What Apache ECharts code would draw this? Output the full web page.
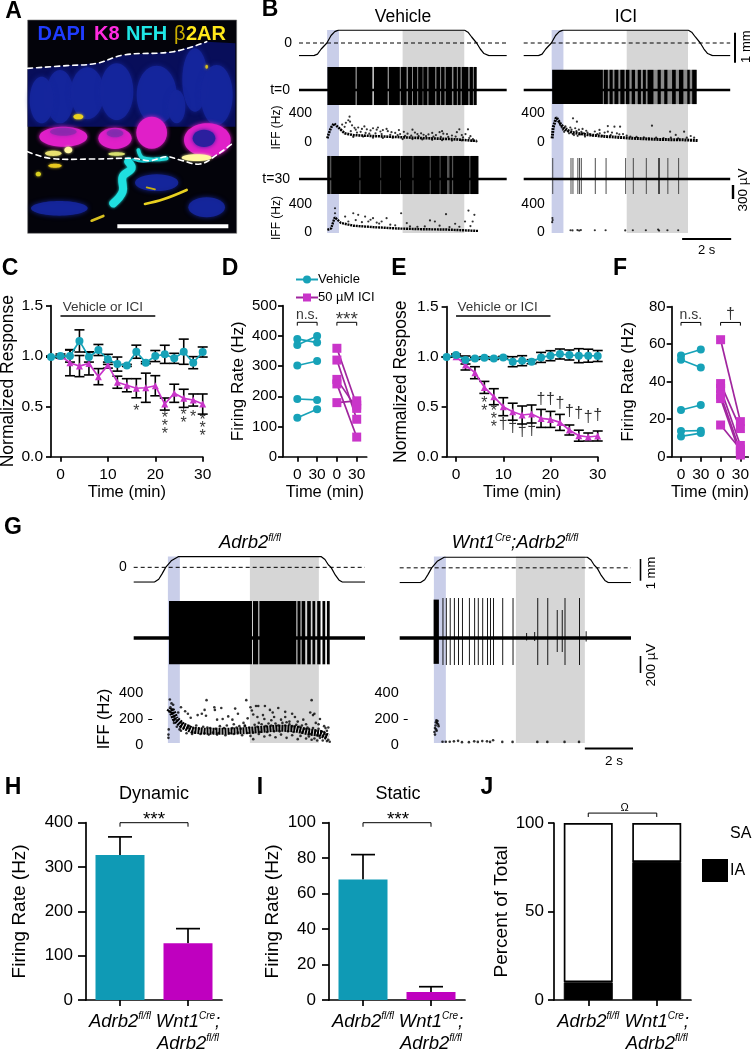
<!DOCTYPE html>
<html><head><meta charset="utf-8">
<script src="https://cdn.jsdelivr.net/npm/echarts@6/dist/echarts.min.js"></script>
<style>html,body{margin:0;background:#fff}#c{width:752px;height:1050px}</style></head>
<body><div id="c"></div>
<script>
// ---------- panel C / E data ----------
const timeMin=[-2,0,2,4,6,8,10,12,14,16,18,20,22,24,26,28,30];
const cVehicle=[0.99,1.0,1.0,1.15,0.99,1.06,0.967,0.92,0.907,1.043,0.934,1.0,1.017,0.977,1.043,0.934,1.04];
const cVehicleErr=[0,0.02,0.06,0.11,0.05,0.055,0.05,0.07,0.01,0.065,0.01,0.055,0.09,0.05,0.125,0.06,0.05];
const cIci=[null,1.0,0.934,0.90,0.927,0.795,0.91,0.74,0.71,0.68,0.685,0.705,0.523,0.63,0.58,0.563,0.523];
const cIciErr=[null,0,0.13,0.105,0.115,0.08,0.03,0.06,0.065,0.095,0.145,0.1,0.06,0.09,0.09,0.06,0.1];
const cSig=[[16,0.45,'*'],[22,0.3,'*\n*\n*'],[26,0.37,'*\n*'],[28,0.39,'*'],[30,0.28,'*\n*\n*']];
const eVehicle=[0.997,1.017,0.967,0.983,0.99,0.983,0.993,0.95,0.96,0.95,0.993,1.01,1.027,1.017,1.01,1.01,1.007];
const eVehicleErr=[0,0.01,0.04,0.01,0.01,0.01,0.01,0.05,0.05,0.02,0.05,0.05,0.05,0.05,0.07,0.065,0.055];
const eIci=[null,1.0,0.917,0.84,0.693,0.6,0.5,0.45,0.417,0.427,0.383,0.373,0.343,0.267,0.21,0.197,0.207];
const eIciErr=[null,0,0.05,0.06,0.06,0.08,0.09,0.085,0.09,0.09,0.09,0.08,0.08,0.05,0.055,0.04,0.05];
const eSig=[[6,0.49,'*\n*'],[8,0.367,'*\n*\n*'],[10,0.317,'†'],[12,0.29,'†'],[14,0.25,'†'],[16,0.257,'†'],[18,0.573,'†'],[20,0.567,'†'],[22,0.527,'†'],[24,0.45,'†'],[26,0.43,'†'],[28,0.39,'†'],[30,0.407,'†']];
// ---------- panel D / F paired data ----------
const pairTicks=['0','30','0','30'];
const dVehicle=[[390,378],[370,400],[302,317],[191,188],[129,157]];
const dIci=[[359,171],[320,124],[256,160],[241,65],[179,185]];
const fVehicle=[[54,57.2],[51.7,47.6],[24.9,27.6],[13.7,13.9],[10.8,12.6]];
const fIci=[[62.4,18.7],[39,15],[36.4,6],[33,2.7],[31,0.9],[16.9,4]];
// ---------- panels H I J ----------
const genotypes=['Adrb2','Wnt1Cre;Adrb2'];
const hMeans=[327,128], hErrTop=[368,161];
const iMeans=[68,4.5], iErrTop=[82,7.5];
const jIA=[10,78], jSA=[90,22];
// ---------- panels B, G traces (seconds, mm, Hz, uV) ----------
const bBlue=[1.14,1.62], bGray=[4.2,6.7], gBlue=[1.23,1.66], gGray=[4.18,6.66];
const bStim=[[0,-.42],[.6,-.42],[.75,-.37],[.9,-.2],[1.13,0],[1.3,.25],[1.45,.38],[1.6,.43],[6.7,.43],[6.85,.36],[7.0,.2],[7.2,0],[7.35,-.2],[7.5,-.35],[7.7,-.42],[8.42,-.42]];
const gStim=[[0,-.68],[.75,-.68],[.9,-.55],[1.02,-.3],[1.15,0],[1.35,.3],[1.6,.49],[6.75,.49],[6.88,.36],[7.0,.12],[7.1,0],[7.25,-.35],[7.38,-.58],[7.5,-.68],[8.32,-.68]];
const spikesV0=[[1.15,2.3],[2.33,2.98],[3.03,3.6],[3.63,4.09],[4.13,4.36],[4.42,4.58],[4.62,4.79],[4.83,5.01],[5.04,5.2],[5.25,5.52],[5.57,5.72],[5.76,5.9],[5.95,6.2],[6.26,6.4],[6.44,6.55],[6.6,6.86],[6.92,7.05],[7.09,7.2]];
const underV0=[[4.09,7.2]];
const spikesI0=[[1.16,3.23],[3.27,3.43],[3.5,3.63],[3.7,3.86],[3.94,4.11],[4.17,4.31],[4.4,4.54],[4.65,4.78],[4.86,4.98],[5.05,5.29],[5.46,5.59],[5.73,5.86],[6.05,6.2],[6.33,6.51],[6.67,6.77],[6.87,7.05]];
const underI0=[[3.23,4.4],[4.4,5.5],[5.5,7.05]];
const spikesV30=[[1.15,1.25],[1.31,2.45],[2.49,3.3],[3.33,4.1],[4.13,4.6],[4.64,5.3],[5.34,5.7],[5.74,6.0],[6.1,6.2],[6.25,6.9],[6.95,7.27]];
const underV30=[[1.15,7.27]];
const spikesI30=[1.166,1.91,1.99,2.19,2.26,2.33,2.90,3.34,4.14,4.45,4.98,5.48,5.52,5.86,6.30];
const spikesGL=[[1.27,4.255],[4.29,4.48],[4.52,5.85],[5.89,6.0],[6.04,6.17],[6.24,6.37],[6.43,6.53],[6.6,6.72],[6.79,6.89],[6.95,7.05]];
const spikesGRBurst=[[1.22,1.41]];
const spikesGRTall=[1.54,1.66,1.80,1.95,2.10,2.24,2.49,2.68,2.81,2.97,3.14,3.25,3.36,3.69,4.06,4.95,5.31,5.93,6.45];
const spikesGRShort=[[4.55,60],[4.84,70],[5.65,330],[5.83,330],[6.69,80]];
const ridgeV0=[[1.15,50],[1.2,110],[1.3,200],[1.42,255],[1.6,200],[1.85,120],[2.2,95],[3.5,75],[4.9,55],[6.2,40],[7.2,15]];
const dotsV0=[[1.9,265],[2.0,300],[2.05,350],[2.07,280],[2.15,230],[1.75,240],[1.85,210],[2.25,195],[2.3,170],[2.4,200],[2.55,180],[2.65,215],[2.75,175],[2.9,160],[3.0,190],[3.15,170],[3.2,200],[3.3,145],[3.4,165],[3.55,180],[3.6,150],[3.75,135],[3.9,125],[4.05,165],[4.1,110],[4.25,140],[4.4,115],[4.6,170],[4.7,130],[4.8,110],[4.95,120],[5.05,100],[5.25,105],[5.4,125],[5.55,95],[5.7,135],[5.8,150],[5.85,115],[6.0,110],[6.2,90],[6.4,135],[6.5,175],[6.6,95],[6.75,110],[6.85,175],[6.95,80],[7.05,40],[7.2,10],[1.7,170],[2.1,150],[2.35,130],[2.5,140],[2.7,125],[2.85,115],[3.1,120],[3.35,110],[3.7,100],[4.0,95],[4.3,85],[4.55,90],[4.85,80],[5.15,80],[5.45,75],[5.75,70],[6.05,70],[6.35,75],[6.65,65],[6.9,55],[2.2,70],[2.6,75],[3.0,60],[3.4,55],[3.8,60],[4.2,40],[4.6,40],[5.0,35],[5.4,30],[5.8,25],[6.2,20],[6.6,22],[7.0,15]];
const ridgeI0=[[1.16,50],[1.2,200],[1.33,340],[1.5,250],[1.7,170],[2.0,130],[2.6,100],[3.4,75],[4.5,50],[5.5,35],[6.5,30],[7.1,20]];
const dotsI0=[[2.01,326],[2.17,280],[3.43,220],[3.7,211],[3.93,211],[5.23,225],[5.97,142],[6.54,142],[6.2,97],[6.81,83],[3.09,166],[3.43,142],[1.45,270],[1.5,230],[1.55,200],[1.6,170],[1.65,140],[1.7,215],[1.75,185],[1.8,150],[1.85,120],[1.9,200],[1.95,170],[2.0,110],[2.05,95],[2.1,190],[2.15,150],[2.2,85],[2.25,170],[2.3,105],[2.35,140],[2.4,180],[2.45,120],[2.5,75],[2.55,155],[2.6,130],[2.7,110],[2.8,90],[2.9,145],[3.0,110],[3.1,120],[3.2,85],[3.3,130],[3.55,95],[3.6,130],[3.8,120],[3.9,105],[4.05,110],[4.2,90],[4.35,75],[4.6,70],[4.9,65],[5.1,50],[5.4,60],[5.7,55],[6.0,60],[6.3,50],[6.65,60],[6.95,60]];
const ridgeV30=[[1.15,30],[1.3,50],[1.45,210],[1.7,130],[2.2,90],[3.0,70],[4.0,50],[5.0,40],[6.0,35],[7.28,15]];
const dotsV30=[[1.46,339],[1.46,268],[2.2,268],[1.87,221],[2.4,245],[2.68,221],[3.0,198],[3.55,198],[3.35,150],[2.81,150],[4.14,268],[5.96,254],[5.31,165],[5.51,150],[6.87,306],[7.11,245],[6.73,150],[7.04,150],[6.33,118],[4.37,127],[2.0,150],[2.3,170],[2.55,140],[2.9,175],[3.15,135],[3.25,120],[3.7,105],[3.9,95],[4.5,80],[4.8,75],[5.1,80],[5.7,90],[6.1,70],[6.5,75],[6.95,85]];
const dotsI30=[[1.17,200],[1.18,170],[1.16,140],[1.91,25],[1.99,22],[2.19,27],[2.26,20],[2.33,28],[2.90,25],[3.34,25],[4.14,22],[4.45,25],[4.98,25],[5.48,35],[5.52,20],[5.86,25],[6.30,25]];
const ridgeGL=[[1.28,250],[1.35,270],[1.5,200],[1.75,150],[2.1,115],[2.6,105],[3.2,105],[4.0,110],[4.6,120],[5.2,130],[5.8,125],[6.3,100],[6.7,90],[7.0,60]];
const dotsGL=[[1.25,80],[1.25,55],[1.26,120],[1.3,350],[1.36,320],[1.42,310],[1.32,290],[1.4,240],[1.46,215],[1.55,190],[1.6,250],[1.72,170],[1.7,290],[1.85,260],[1.95,240],[2.05,210],[2.15,130],[2.3,230],[2.45,240],[2.55,270],[2.6,225],[2.62,345],[2.9,290],[2.92,270],[3.15,285],[3.0,195],[3.2,200],[3.4,220],[3.55,195],[3.6,160],[3.65,280],[3.75,240],[3.8,145],[3.95,170],[4.0,150],[4.1,205],[4.05,345],[4.2,290],[4.25,265],[4.3,235],[4.4,300],[4.45,215],[4.48,300],[4.5,170],[4.65,230],[4.7,200],[4.72,300],[4.9,270],[4.95,190],[5.0,250],[5.05,215],[5.3,195],[5.2,285],[5.45,215],[5.45,255],[5.5,175],[5.6,180],[5.7,240],[5.8,215],[5.9,180],[6.1,195],[6.2,160],[6.35,250],[6.4,345],[6.45,230],[6.5,240],[6.55,170],[6.7,200],[6.65,160],[6.85,145],[6.9,130],[7.0,135],[6.95,110],[1.65,120],[1.9,90],[2.1,85],[2.4,85],[2.7,80],[3.0,80],[3.3,75],[3.6,85],[3.9,75],[4.2,70],[4.3,45],[4.5,85],[4.7,65],[4.9,75],[5.1,60],[5.3,80],[5.5,55],[5.7,75],[5.9,45],[6.0,70],[6.2,50],[6.3,65],[6.4,40],[6.5,50],[6.6,35],[6.7,55],[6.8,35],[6.9,60],[6.95,30],[7.0,40],[7.05,25],[1.45,170],[1.55,140],[1.7,110],[1.8,130],[2.0,145],[2.25,150],[2.5,140],[2.75,130],[3.1,145],[3.35,150],[3.7,135],[4.0,145],[4.35,155],[4.6,160],[4.85,165],[5.1,165],[5.35,170],[5.6,160],[5.85,155],[6.05,150],[6.25,135],[6.45,130],[6.65,125],[6.85,100],
[1.95,130],[2.2,95],[2.35,125],[2.55,90],[2.65,135],[2.85,95],[2.95,125],[3.05,92],[3.25,130],[3.45,90],[3.55,130],[3.75,95],[3.85,125],[4.1,92],[4.15,135],[4.3,95],[4.45,140],[4.55,100],[4.75,145],[4.8,100],[4.95,150],[5.05,105],[5.2,150],[5.25,105],[5.45,150],[5.55,105],[5.7,145],[5.75,100],[5.95,140],[6.05,95],[6.15,125],[6.3,125],[6.35,85],[6.55,110],[6.6,75],[6.75,105],[6.8,70],[6.92,80]];
const dotsGR=[[1.25,100],[1.27,130],[1.29,150],[1.3,175],[1.32,190],[1.34,170],[1.36,185],[1.38,160],[1.4,145],[1.27,80],[1.31,120],[1.33,110],[1.54,25],[1.66,25],[1.80,25],[1.95,28],[2.10,32],[2.24,22],[2.49,22],[2.68,28],[2.81,24],[2.97,30],[3.14,28],[3.25,24],[3.36,36],[3.69,24],[4.06,24],[4.95,24],[5.31,24],[5.93,24],[6.45,24]];
// ---------- helpers ----------
const FF='"Liberation Sans",Arial,sans-serif';
const grids=[],xAxes=[],yAxes=[],series=[],graphics=[];
const CY='#17a2b8',MG='#c935c9',MGD='#a0259e';
function G(rect,x,y){grids.push({left:rect[0],top:rect[1],width:rect[2],height:rect[3],containLabel:false,outerBoundsMode:'none'});
 xAxes.push(Object.assign({gridIndex:grids.length-1,type:'value',show:false,splitLine:{show:false}},x));
 yAxes.push(Object.assign({gridIndex:yAxes.length,type:'value',show:false,splitLine:{show:false}},y));
 return grids.length-1;}
function S(g,o){series.push(Object.assign({xAxisIndex:g,yAxisIndex:g,animation:false,silent:true},o));}
function txt(x,y,t,size,o){o=o||{};graphics.push({type:'text',x,y,rotation:o.rot||0,z:o.z||20,style:Object.assign({text:t,font:(o.weight||'normal')+' '+size+'px '+FF,fill:o.fill||'#000',align:o.align||'center',verticalAlign:'middle'},o.style||{})});}
function vbar(x,y0,y1,w){graphics.push({type:'line',z:20,shape:{x1:x,y1:y0,x2:x,y2:y1},style:{stroke:'#000',lineWidth:w||2}});}
const rectItem=(p,api)=>{const a=api.coord([api.value(0),api.value(3)]),b=api.coord([api.value(1),api.value(2)]);
 return{type:'rect',shape:{x:a[0],y:a[1],width:Math.max(b[0]-a[0],.9),height:b[1]-a[1]},style:{fill:api.visual('color')}}};
function bands(left,width,tmax,top,h,blue,gray){const g=G([left,top,width,h],{min:0,max:tmax},{min:0,max:1});
 S(g,{type:'custom',z:1,renderItem:rectItem,itemStyle:{color:'#c9cee9'},data:[[blue[0],blue[1],0,1]]});
 S(g,{type:'custom',z:1,renderItem:rectItem,itemStyle:{color:'#d6d6d6'},data:[[gray[0],gray[1],0,1]]});return g;}
function stim(left,width,tmax,top,h,ymin,ymax,pts,label){const ya={min:ymin,max:ymax};
 if(label){ya.show=true;ya.axisLine={show:false};ya.axisTick={show:false};ya.axisLabel={customValues:[0],margin:7,fontSize:14,color:'#000',fontFamily:FF}}
 const g=G([left,top,width,h],{min:0,max:tmax},ya);
 S(g,{type:'line',z:3,showSymbol:false,data:pts,lineStyle:{color:'#000',width:1.2}});
 S(g,{type:'line',z:3,showSymbol:false,data:[[0,0],[tmax,0]],lineStyle:{color:'#000',width:1,type:[4,3]}});}
function spikes(left,width,tmax,center,up,down,uvPerPx,segs,label,extra){extra=extra||{};const top=center-up,h=up+down;
 const ya={min:-down*uvPerPx,max:up*uvPerPx};
 if(label){ya.show=true;ya.axisLine={show:false};ya.axisTick={show:false};ya.axisLabel={customValues:[0],margin:9,fontSize:14,color:'#000',fontFamily:FF,formatter:()=>label}}
 const g=G([left,top,width,h],{min:0,max:tmax},ya);
 const lo=-down*.94*uvPerPx,hi=up*.96*uvPerPx;
 if(extra.under)S(g,{type:'custom',z:3,renderItem:rectItem,itemStyle:{color:extra.underColor||'#777'},data:extra.under.map(s=>[s[0],s[1],lo,hi])});
 S(g,{type:'custom',z:3,renderItem:rectItem,itemStyle:{color:extra.color||'#000'},data:segs.map(s=>[s[0],s[1],s[2]!==undefined?s[2]:lo,s[3]!==undefined?s[3]:hi])});
 S(g,{type:'line',z:3,showSymbol:false,data:[[0,0],[tmax,0]],lineStyle:{color:'#000',width:extra.base||2.4}});
 return g;}
function iff(left,width,tmax,top,h,o){const ya={min:0,max:400,interval:o.interval||400,show:o.labels,offset:o.offset,name:o.name,nameLocation:'middle',nameGap:o.nameGap,nameTextStyle:{fontSize:o.nameSize,color:'#000',fontFamily:FF},axisLine:{show:false},axisTick:o.tick?{show:true,customValues:[200],inside:true,length:4,lineStyle:{color:'#000',width:1}}:{show:false},axisLabel:{margin:o.margin,fontSize:o.fs,color:'#000',fontFamily:FF}};
 const g=G([left,top,width,h],{min:0,max:tmax},ya);
 if(o.ridge)S(g,{type:'line',z:3,showSymbol:false,data:o.ridge,lineStyle:{color:'#000',width:o.rw||2.6,type:o.dash||[2,.8]}});
 S(g,{type:'scatter',z:3,symbolSize:o.ds||2.2,itemStyle:{color:'#000'},data:o.dots});}
const axC={axisLine:{show:true,onZero:false,lineStyle:{color:'#000',width:1.7}},axisTick:{show:true,length:5,lineStyle:{color:'#000',width:1.7}},splitLine:{show:false},show:true};
function axis(o){const a=JSON.parse(JSON.stringify(axC));return Object.assign(a,o);}
function lab(fs,extra){return Object.assign({fontSize:fs,color:'#000',fontFamily:FF},extra||{});}
function errSeries(g,xs,mean,err,lw,cap){S(g,{type:'custom',z:3,renderItem:(p,api)=>{const x=api.value(0),l=api.coord([x,api.value(1)]),h=api.coord([x,api.value(2)]);
 return{type:'group',children:[{type:'line',shape:{x1:l[0],y1:l[1],x2:h[0],y2:h[1]},style:{stroke:'#000',lineWidth:lw}},{type:'line',shape:{x1:l[0]-cap,y1:h[1],x2:l[0]+cap,y2:h[1]},style:{stroke:'#000',lineWidth:lw}},{type:'line',shape:{x1:l[0]-cap,y1:l[1],x2:l[0]+cap,y2:l[1]},style:{stroke:'#000',lineWidth:lw}}]}},
 data:xs.map((x,i)=>mean[i]==null?null:[x,mean[i]-err[i],mean[i]+err[i]]).filter(Boolean)});}
function ann(g,rows,fs,lh,weight){S(g,{type:'scatter',z:6,symbolSize:1,clip:false,itemStyle:{color:'rgba(0,0,0,0)'},data:rows,label:{show:true,position:'inside',formatter:p=>p.data[2],fontSize:fs,fontWeight:weight||'normal',lineHeight:lh||fs,color:'#000',fontFamily:FF}});}
function hline(g,pts,w){S(g,{type:'line',z:4,clip:false,showSymbol:false,data:pts,lineStyle:{color:'#000',width:w||1}});}
function timeChart(rect,name,nameGap,veh,vehErr,ici,iciErr,barY,textPos){
 const t=[0,10,20,30];
 const g=G(rect,axis({min:-2,max:30,name:'Time (min)',nameLocation:'middle',nameGap:27,nameTextStyle:lab(16.5),axisTick:{show:true,customValues:t,length:5,lineStyle:{color:'#000',width:1.7}},axisLabel:lab(15.5,{customValues:t,margin:10})}),
  axis({min:0,max:1.5,interval:.5,name,nameLocation:'middle',nameGap,nameTextStyle:lab(17.5),axisLabel:lab(15.5,{margin:8,formatter:v=>v.toFixed(1)})}));
 errSeries(g,timeMin,veh,vehErr,1.6,5);errSeries(g,timeMin,ici,iciErr,1.6,5);
 S(g,{type:'line',z:5,data:timeMin.map((x,i)=>[x,ici[i]]).filter(d=>d[1]!=null),symbol:'triangle',symbolSize:7,lineStyle:{color:MG,width:1.7},itemStyle:{color:MG}});
 S(g,{type:'line',z:5,data:timeMin.map((x,i)=>[x,veh[i]]),symbol:'circle',symbolSize:8,lineStyle:{color:CY,width:1.7},itemStyle:{color:CY}});
 hline(g,[[0,barY],[20,barY]],1.6);
 ann(g,[[textPos[0],textPos[1],'Vehicle or ICI']],13.5);
 return g;}
function pairChart(rect,ymax,step,nameGap,veh,ici,brTop,brTip,labels,sigSize){
 const t=[0,1,2,3];const px=19.8;
 const g=G(rect,axis({min:-(rect[4])/px,max:(rect[2]-rect[4])/px,name:'Time (min)',nameLocation:'middle',nameGap:27,nameTextStyle:lab(16.5),axisTick:{show:true,customValues:t,length:5,lineStyle:{color:'#000',width:1.7}},axisLabel:lab(15.5,{customValues:t,margin:10,formatter:v=>pairTicks[Math.round(v)]})}),
  axis({min:0,max:ymax,interval:step,name:'Firing Rate (Hz)',nameLocation:'middle',nameGap,nameTextStyle:lab(17),axisLabel:lab(15,{margin:6})}));
 veh.forEach(p=>S(g,{type:'line',name:'Vehicle',z:5,data:[[0,p[0]],[1,p[1]]],symbol:'circle',symbolSize:8,lineStyle:{color:CY,width:1.7},itemStyle:{color:CY}}));
 ici.forEach(p=>S(g,{type:'line',name:'50 µM ICI',z:5,data:[[2,p[0]],[3,p[1]]],symbol:'rect',symbolSize:9,lineStyle:{color:MGD,width:1.7},itemStyle:{color:MG}}));
 hline(g,[[0,brTip],[0,brTop],[1,brTop],[1,brTip]]);hline(g,[[2,brTip],[2,brTop],[3,brTop],[3,brTip]]);
 ann(g,[labels[0]],14,14);ann(g,[labels[1]],sigSize,sigSize);
 return g;}
const gtRich={i:{fontStyle:'italic',fontSize:18.5,fontFamily:FF,color:'#000',lineHeight:22},s:{fontStyle:'italic',fontSize:10,fontFamily:FF,color:'#000',verticalAlign:'top',lineHeight:22,padding:[0,0,8,0]}};
function gtFmt(v){return v==='Adrb2'?'{i|Adrb2}{s|fl/fl}':'{i|Wnt1}{s|Cre}{i|;}\n{i|Adrb2}{s|fl/fl}';}
function barAxes(name,nameGap,max,step,tick,margin){return[
 axis({type:'category',data:genotypes,axisTick:{show:true,alignWithLabel:true,length:6,lineStyle:{color:'#000',width:1.7}},axisLabel:{margin:11,formatter:gtFmt,rich:gtRich,interval:0}}),
 axis({min:0,max,interval:step,name,nameLocation:'middle',nameGap,nameTextStyle:lab(19),axisTick:{show:true,length:tick,lineStyle:{color:'#000',width:1.7}},axisLabel:lab(17,{margin})})];}
function barChart(rect,name,gap,max,step,vals,tops,br,brTip,tick,margin){const a=barAxes(name,gap,max,step,tick,margin);const g=G(rect,a[0],a[1]);
 S(g,{type:'custom',z:2,renderItem:(p,api)=>{const c=api.coord([api.value(0),api.value(1)]),h=api.coord([api.value(0),api.value(2)]);
  return{type:'group',children:[{type:'line',shape:{x1:c[0],y1:c[1],x2:c[0],y2:h[1]},style:{stroke:'#000',lineWidth:1.7}},{type:'line',shape:{x1:c[0]-12,y1:h[1],x2:c[0]+12,y2:h[1]},style:{stroke:'#000',lineWidth:1.7}}]}},
  data:vals.map((v,i)=>[i,v,tops[i]])});
 S(g,{type:'bar',z:3,barWidth:49,data:[{value:vals[0],itemStyle:{color:'#0f9ab5'}},{value:vals[1],itemStyle:{color:'#bf00bf'}}]});
 const cat=genotypes;hline(g,[[cat[0],brTip],[cat[0],br],[cat[1],br],[cat[1],brTip]]);
 return g;}
// ---------- panel letters ----------
[['A',13.5,12],['B',270,10],['C',10,269],['D',230,269],['E',399,269],['F',620,269],['G',13,528],['H',13,788],['I',260,788],['J',487,788]].forEach(l=>txt(l[1],l[2],l[0],23,{weight:'bold'}));
// ---------- panel A (micrograph sketched with blurred shapes) ----------
const pz=v=>v/3;
graphics.push({type:'rect',z:5,shape:{x:pz(83),y:pz(60),width:pz(627),height:pz(640)},style:{fill:'#03030a',stroke:'#777',lineWidth:.6}});
function blob(cx,cy,rx,ry,c,blur,op){graphics.push({type:'ellipse',z:6,shape:{cx:pz(cx),cy:pz(cy),rx:pz(rx),ry:pz(ry)},style:{fill:c,shadowColor:c,shadowBlur:blur||6,opacity:op||1}});}
function path(pts,c,w,o){o=o||{};graphics.push({type:'polyline',z:o.z||7,shape:{points:pts.map(p=>[pz(p[0]),pz(p[1])]),smooth:o.smooth===undefined?.4:o.smooth},style:{stroke:c,lineWidth:w,fill:'none',lineDash:o.dash||null,lineCap:'round',shadowColor:o.glow||null,shadowBlur:o.glow?3:0}});}
graphics.push({type:'polygon',z:5,shape:{points:[[83,205],[290,190],[370,165],[520,155],[620,125],[706,130],[706,380],[83,380]].map(p=>[pz(p[0]),pz(p[1])])},style:{fill:'#080e5a'}});
[[180,290,42,80],[262,280,50,78],[350,275,50,85],[470,285,60,88],[585,240,38,95],[650,285,48,90],[125,300,36,70],[530,320,26,50],[178,625,85,22],[470,548,65,25],[620,622,55,30]].forEach(b=>blob(b[0],b[1],b[2],b[3],'#15269c',5,.9));
[[190,410,72,30],[345,415,50,32],[455,398,46,48],[622,420,70,50]].forEach(b=>blob(b[0],b[1],b[2],b[3],'#e01fc8',4));
blob(612,415,34,26,'#2b1f9e',4);blob(190,395,40,12,'#7a2aa8',4,.6);blob(345,400,25,12,'#6c2ea8',4,.6);
[[205,450,12,10,'#fff6a0'],[160,460,25,8,'#e8e070'],[590,473,45,10,'#fff8a0'],[350,462,25,5,'#d8e070'],[235,350,15,8,'#e8d020'],[165,497,20,6,'#e8c820'],[115,522,8,7,'#d8d020'],[620,200,4,6,'#d8c020']].forEach(b=>blob(b[0],b[1],b[2],b[3],b[4],3));
path([[385,485],[395,505],[368,530],[368,575],[340,610]],'#1fe0e0',pz(24),{glow:'#1fe0e0'});
path([[415,450],[430,475],[500,475]],'#1fd8d8',pz(11),{glow:'#1fd8d8'});
path([[400,478],[430,485],[470,475]],'#18c8d0',pz(7));
path([[435,612],[490,598],[560,570]],'#e8d020',pz(8));path([[275,662],[310,648]],'#d8c020',pz(8));path([[440,562],[465,568]],'#c8b010',pz(5));
path([[83,205],[200,197],[290,190],[370,165],[520,155],[620,125]],'#fff',1.6,{dash:[5,4]});
path([[83,455],[150,475],[280,477],[400,475],[450,482],[500,470],[540,480],[600,492],[650,465],[695,432]],'#fff',1.6,{dash:[5,4]});
graphics.push({type:'rect',z:8,shape:{x:pz(352),y:pz(673),width:pz(333),height:4},style:{fill:'#fff'}});
[['DAPI',37.5,'#1f3cff'],['K8',94,'#ff2be0'],['NFH',126,'#1fe6e6'],['β',174,'#c9ad00'],['2AR',186,'#ffe81a']].forEach(t=>txt(t[1],34.5,t[0],20,{align:'left',fill:t[2],weight:t[0]==='β'?'normal':'bold',z:9}));
// ---------- panel B ----------
const BT=8.42,VL=299,VW=207.7,IL=523.7,IW=206.5;
bands(VL,VW,BT,30,203,bBlue,bGray);
const icib=bands(IL,IW,BT,30,203,bBlue,bGray);
stim(VL,VW,BT,30,26,-.433,.433,bStim,true);stim(IL,IW,BT,30,26,-.433,.433,bStim,false);
spikes(VL,VW,BT,90,24,16,21.4,spikesV0,'t=0',{under:underV0,underColor:'#8a8a8a'});
spikes(IL,IW,BT,90,21,15,21.4,spikesI0,null,{under:underI0,underColor:'#8a8a8a'});
spikes(VL,VW,BT,179,24,16,21.4,spikesV30,'t=30',{under:underV30,underColor:'#555'});
spikes(IL,IW,BT,179,22,16,21.4,spikesI30.map(t=>[t,t+.02]),null,{color:'#3a3a3a'});
const bl={labels:true,interval:400,fs:14,offset:-13,margin:0,name:'IFF (Hz)',nameSize:12,nameGap:29};
iff(VL,VW,BT,113,29,Object.assign({},bl,{ridge:ridgeV0,dots:dotsV0}));
iff(IL,IW,BT,113,29,Object.assign({},bl,{name:'',offset:-22,margin:1,ridge:ridgeI0,rw:3,dots:dotsI0}));
iff(VL,VW,BT,204,28,Object.assign({},bl,{ridge:ridgeV30,rw:2.4,dots:dotsV30}));
iff(IL,IW,BT,204,28,Object.assign({},bl,{name:'',offset:-22,margin:1,dots:dotsI30}));
hline(icib,[[6.46,-.03],[8.46,-.03]],2);
txt(403,17,'Vehicle',17.5);txt(626,17,'ICI',17.5);txt(706.7,250.7,'2 s',13);
vbar(735,32.7,62.7,2);txt(746.5,46.7,'1 mm',13,{rot:Math.PI/2});
vbar(733,185,199,2.4);txt(743,190,'300 µV',13.5,{rot:Math.PI/2});
// ---------- panels C D E F ----------
const gc=timeChart([51,305.7,151.7,151],'Normalized Response',34,cVehicle,cVehicleErr,cIci,cIciErr,1.397,[8.95,1.483]);
ann(gc,cSig,16,8);
pairChart([283,305.7,83.7,151,14.3],500,100,36,dVehicle,dIci,445,434,[[.5,469,'n.s.'],[2.5,455,'***']],19);
const ge=timeChart([446.6,306.7,151.1,150],'Normalized Respose',36,eVehicle,eVehicleErr,eIci,eIciErr,1.407,[8.8,1.493]);
ann(ge,eSig,16,8);
pairChart([671.7,306.7,76.6,150,9.3],80,20,35,fVehicle,fIci,71.6,69.9,[[.5,75.5,'n.s.'],[2.5,76,'†']],16);
// ---------- panel G ----------
const GT=8.32,GLL=133.7,GLW=231.3,GRL=399.7,GRW=231.3;
bands(GLL,GLW,GT,556.5,186.5,gBlue,gGray);
const grb=bands(GRL,GRW,GT,556.5,186.5,gBlue,gGray);
stim(GLL,GLW,GT,556.7,25.4,-.68,.49,gStim,true);stim(GRL,GRW,GT,557.2,25.4,-.68,.49,gStim,false);
spikes(GLL,GLW,GT,638,38.5,28,11.76,spikesGL,null,{base:3.5});
spikes(GRL,GRW,GT,638,40,27.5,11.76,spikesGRBurst.concat(spikesGRTall.map(t=>[t,t+.02,-318,470]),spikesGRShort.map(s=>[s[0],s[0]+.02,-s[1]*.5,s[1]])),null,{base:3.5});
iff(GLL,GLW,GT,693,52,{labels:true,interval:200,fs:14.5,offset:-14.5,margin:5,tick:true,name:'IFF (Hz)',nameSize:16.5,nameGap:35,ridge:ridgeGL,rw:7,dash:[2,1],dots:dotsGL,ds:2.6});
iff(GRL,GRW,GT,693,52,{labels:true,interval:200,fs:14.5,offset:-4,margin:5,tick:true,name:'',dots:dotsGR,ds:2.6});
hline(grb,[[6.66,-.03],[8.66,-.03]],2);
const giRich={a:{fontStyle:'italic',fontSize:18.5,fontFamily:FF,color:'#000'},b:{fontStyle:'italic',fontSize:10,fontFamily:FF,color:'#000',verticalAlign:'top',padding:[0,0,8,0]}};
function richTitle(x,y,s){graphics.push({type:'text',x,y,z:20,style:{text:s,rich:giRich,align:'center',verticalAlign:'middle'}});}
richTitle(250,543,'{a|Adrb2}{b|fl/fl}');richTitle(515,543,'{a|Wnt1}{b|Cre}{a|;Adrb2}{b|fl/fl}');
txt(614,761,'2 s',13.5);
vbar(640.5,559,580.7,1.6);txt(651,573,'1 mm',13,{rot:Math.PI/2});
vbar(640.5,656,673,1.6);txt(651,665,'200 µV',13.5,{rot:Math.PI/2});
// ---------- panels H I J ----------
barChart([86,822.7,136,177.3],'Firing Rate (Hz)',57,400,100,hMeans,hErrTop,400,391,8,13);
barChart([329,822.7,136,177.3],'Firing Rate (Hz)',47,100,20,iMeans,iErrTop,100,97.7,7,13);
txt(154,820,'***',19);txt(398,820,'***',19);
txt(154,794,'Dynamic',18);txt(398,794,'Static',18);
const ja=barAxes('Percent of Total',43,100,50,6,10);
const gj=G([554,823,137,177],ja[0],ja[1]);
S(gj,{type:'bar',name:'IA',stack:'j',z:3,barWidth:49,data:jIA,itemStyle:{color:'#000',borderColor:'#000',borderWidth:1}});
S(gj,{type:'bar',name:'SA',stack:'j',z:3,barWidth:49,data:jSA,itemStyle:{color:'#fff',borderColor:'#000',borderWidth:1.7}});
hline(gj,[[genotypes[0],103.4],[genotypes[0],105.6],[genotypes[1],105.6],[genotypes[1],103.4]]);
txt(624.7,808,'Ω',11);
// ---------- chart ----------
const chart=echarts.init(document.getElementById('c'),null,{renderer:'canvas'});
chart.setOption({animation:false,backgroundColor:'#fff',textStyle:{fontFamily:FF},
 grid:grids,xAxis:xAxes,yAxis:yAxes,series,graphic:{elements:graphics},
 legend:[{left:290,top:268,orient:'vertical',itemWidth:22,itemHeight:10,itemGap:5,selectedMode:false,data:['Vehicle','50 µM ICI'],textStyle:{fontSize:13,color:'#000',fontFamily:FF,padding:[0,0,0,-5]}},
 {left:697,top:818,orient:'vertical',itemWidth:24,itemHeight:21,itemGap:15,selectedMode:false,data:[{name:'SA',icon:'rect',itemStyle:{color:'#fff',borderWidth:0,borderColor:'#fff'}},{name:'IA',icon:'rect',itemStyle:{color:'#000'}}],textStyle:{fontSize:16,color:'#000',fontFamily:FF,padding:[0,0,0,-2]}}]});
</script></body></html>
